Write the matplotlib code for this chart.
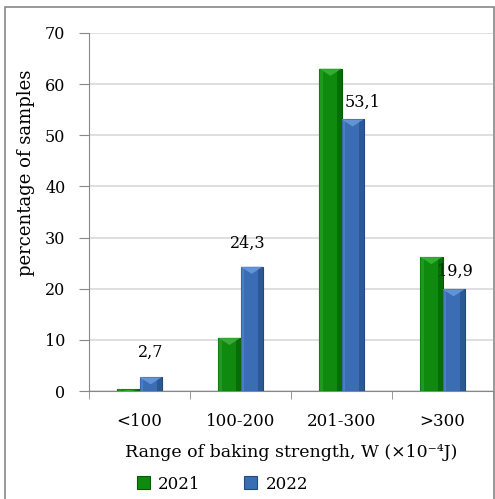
import matplotlib.pyplot as plt
from matplotlib.patches import Rectangle, Polygon

plt.rcParams['font.family'] = ['DejaVu Serif']

categories = ['<100', '100-200', '201-300', '>300']
y2021 = [0.3, 10.4, 63.0, 26.2]
y2022 = [2.7, 24.3, 53.1, 19.9]
labels2022 = ['2,7', '24,3', '53,1', '19,9']

fig = plt.figure(figsize=(4.95, 4.99), dpi=100)
ax = fig.add_axes([0.18, 0.2164, 0.816, 0.7178])

x = list(range(len(categories)))
w = 0.22
green, green_dk, green_lt = '#0f8a0f', '#005c00', '#3cb83c'
blue, blue_dk, blue_lt = '#3a6db3', '#234a80', '#6c9ee0'

def bevel_bars(xs, vals, fc, dk, lt, label):
    bars = ax.bar(xs, vals, w, color=fc, edgecolor=dk, linewidth=0.8, label=label, zorder=3)
    for b in bars:
        x0, y0, bw, bh = b.get_x(), b.get_y(), b.get_width(), b.get_height()
        # darker right side strip
        ax.add_patch(Rectangle((x0 + bw * 0.8, y0), bw * 0.2, bh, color=dk, alpha=0.6, zorder=4, lw=0))
        # lighter left strip
        ax.add_patch(Rectangle((x0, y0), bw * 0.15, bh, color=lt, alpha=0.35, zorder=4, lw=0))
        # top bevel triangle
        th = min(bh, 1.4)
        ax.add_patch(Polygon([(x0, y0 + bh), (x0 + bw, y0 + bh), (x0 + bw / 2, y0 + bh - th)],
                             closed=True, color=lt, alpha=0.8, zorder=5, lw=0))
    return bars

bevel_bars([i - w / 2 for i in x], y2021, green, green_dk, green_lt, '2021')
bevel_bars([i + w / 2 for i in x], y2022, blue, blue_dk, blue_lt, '2022')

# value labels for 2022
offsets = [(0, 18), (-3, 16.5), (7, 12), (1, 13)]
for i, (v, t) in enumerate(zip(y2022, labels2022)):
    ax.annotate(t, (i + w / 2, v), xytext=offsets[i], textcoords='offset points',
                ha='center', va='center', fontsize=11.5)

ax.set_xlim(-0.5, 3.5)
ax.set_ylim(0, 70)
ax.set_yticks(range(0, 71, 10))
ax.set_xticks(x)
ax.set_xticklabels(categories, fontsize=12)
ax.set_xticks([-0.5, 0.5, 1.5, 2.5, 3.5], minor=True)
ax.tick_params(axis='x', which='major', length=0, pad=16)
ax.tick_params(axis='x', which='minor', length=6, color='#888888', direction='out')
ax.tick_params(axis='y', length=7, color='#888888', labelsize=11.5, pad=10)
ax.grid(axis='y', color='#d9d9d9', linewidth=1.2, zorder=0)
for s in ['top', 'right']:
    ax.spines[s].set_visible(False)
ax.spines['left'].set_color('#888888')
ax.spines['bottom'].set_color('#888888')

ax.set_ylabel('percentage of samples', fontsize=13)
ax.yaxis.set_label_coords(-0.135, 0.61)
ax.set_xlabel('Range of baking strength, W (×10⁻⁴J)', fontsize=12.5, labelpad=10)

ax.legend(loc='center', bbox_to_anchor=(0.33, -0.26), ncol=2, frameon=False,
          fontsize=12, handlelength=0.8, handleheight=0.8, columnspacing=2.6, handletextpad=0.5)

fig.patches.append(Rectangle((0.01, -0.01), 0.988, 0.996, transform=fig.transFigure,
                             fill=False, edgecolor='#888888', linewidth=1.2))

fig.savefig('out.png', dpi=100)
